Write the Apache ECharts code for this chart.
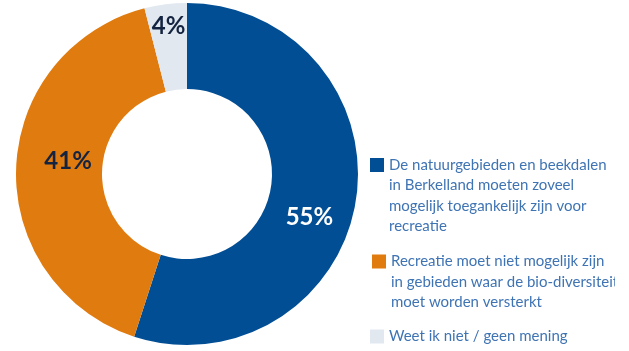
<!DOCTYPE html>
<html>
<head>
<meta charset="utf-8">
<script src="https://cdn.jsdelivr.net/npm/echarts@6/dist/echarts.min.js"></script>
<style>
  html, body { margin: 0; padding: 0; background: #ffffff; overflow: hidden; }
  #chart { width: 615px; height: 351px; }
</style>
</head>
<body>
<div id="chart"></div>
<script>
// Survey answers and their shares (percent)
const categories = [
  'De natuurgebieden en beekdalen\nin Berkelland moeten zoveel\nmogelijk toegankelijk zijn voor\nrecreatie',
  'Recreatie moet niet mogelijk zijn\nin gebieden waar de bio-diversiteit\nmoet worden versterkt',
  'Weet ik niet / geen mening'
];
const values = [55, 41, 4];
const sliceColors = ['#024e95', '#e07b0f', '#e1e8f0'];
const labelColors = ['#ffffff', '#14233f', '#14233f'];
// Nudges that move each percentage label off the ring's mid-radius
const labelShift = [[-7, 23], [12, -9], [-2, -18]];

const FONT = 'Lato';
const LINE_H = 20.5;
const legendLeft = [370, 372, 370];
const iconCenterY = [165, 261.5, 336.5];

// One legend per answer; leading blank lines keep the marker level with the first text line
const legends = categories.map((name, i) => {
  const n = name.split('\n').length;
  return {
    orient: 'vertical',
    left: legendLeft[i],
    top: iconCenterY[i] - (2 * n - 1) * LINE_H / 2,
    padding: 0,
    itemWidth: 14,
    itemHeight: 14,
    icon: 'rect',
    selectedMode: false,
    data: [name],
    formatter: (label) => '\n'.repeat(n - 1) + label,
    textStyle: {
      fontFamily: FONT,
      fontSize: 15,
      color: '#3f74b4',
      lineHeight: LINE_H
    }
  };
});

const chart = echarts.init(document.getElementById('chart'), null, { renderer: 'canvas' });
chart.setOption({
  animation: false,
  backgroundColor: '#ffffff',
  legend: legends,
  series: [{
    type: 'pie',
    center: [187, 174],
    radius: [85, 171],
    startAngle: 90,
    clockwise: true,
    avoidLabelOverlap: false,
    emphasis: { disabled: true },
    label: {
      show: true,
      position: 'inside',
      fontFamily: FONT,
      fontWeight: 'bold',
      fontSize: 24,
      formatter: '{c}%'
    },
    labelLine: { show: false },
    labelLayout: (p) => ({ dx: labelShift[p.dataIndex][0], dy: labelShift[p.dataIndex][1] }),
    data: categories.map((name, i) => ({
      name: name,
      value: values[i],
      itemStyle: { color: sliceColors[i] },
      label: { color: labelColors[i] }
    }))
  }]
});
</script>
</body>
</html>
